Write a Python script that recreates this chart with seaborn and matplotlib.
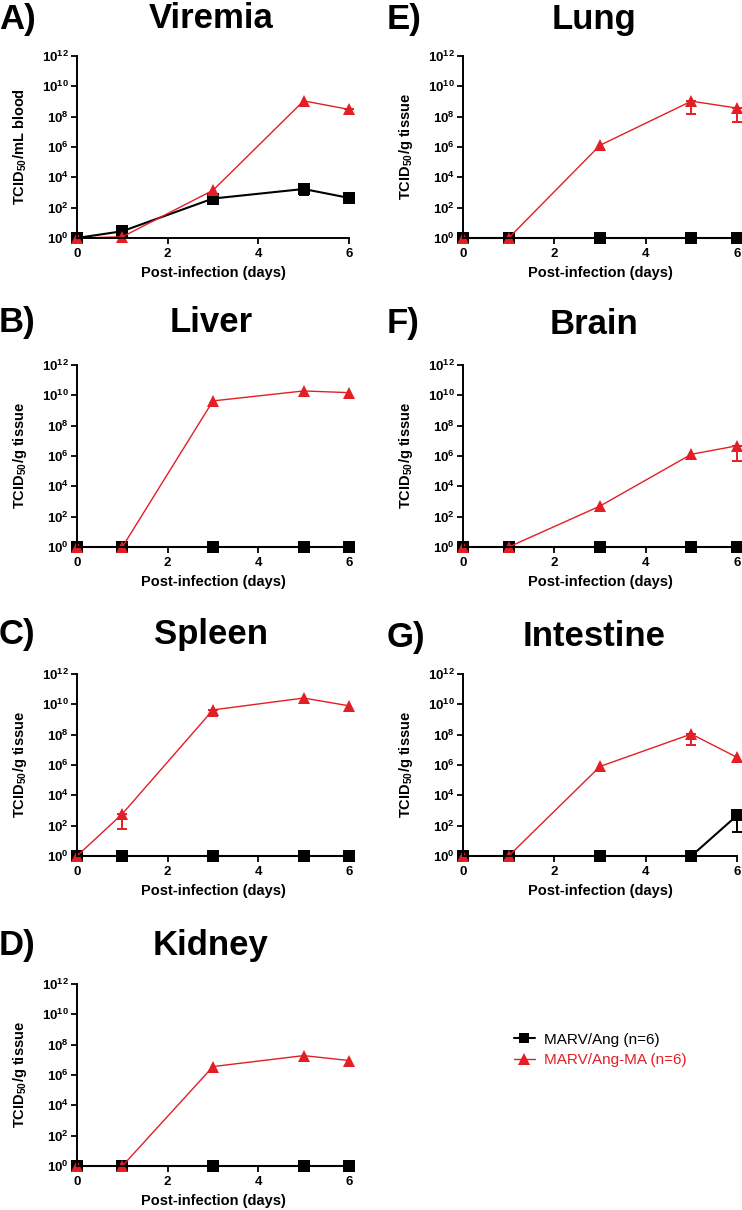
import pandas as pd
import matplotlib
matplotlib.use('Agg')
import matplotlib.pyplot as plt
import seaborn as sns
from matplotlib.lines import Line2D
from matplotlib.ticker import NullLocator

sns.set_style('ticks')
plt.rcParams['font.family'] = ['Liberation Sans', 'DejaVu Sans']
plt.rcParams['mathtext.fontset'] = 'custom'
plt.rcParams['mathtext.rm'] = 'Liberation Sans'
plt.rcParams['mathtext.bf'] = 'Liberation Sans:bold'
plt.rcParams['mathtext.default'] = 'bf'
for key in ['text.color', 'axes.labelcolor', 'xtick.color', 'ytick.color', 'axes.edgecolor']:
    plt.rcParams[key] = 'black'

days = [0, 1, 3, 5, 6]
groups = ['MARV/Ang (n=6)', 'MARV/Ang-MA (n=6)']
colors = ['black', '#E31E24']

# titers (TCID50)
viremia_ang = [1, 2.8, 4.0e2, 1.7e3, 4.4e2]
viremia_ma = [1, 1.2, 1.4e3, 1.1e9, 3.0e8]
liver_ang = [1, 1, 1, 1, 1]
liver_ma = [1, 1, 4.3e9, 1.95e10, 1.5e10]
spleen_ang = [1, 1, 1, 1, 1]
spleen_ma = [1, 6.0e2, 4.3e9, 2.6e10, 8.0e9]
kidney_ang = [1, 1, 1, 1, 1]
kidney_ma = [1, 1, 3.6e6, 1.9e7, 9.0e6]
lung_ang = [1, 1, 1, 1, 1]
lung_ma = [1, 1, 1.3e6, 1.05e9, 3.7e8]
brain_ang = [1, 1, 1, 1, 1]
brain_ma = [1, 1, 5.0e2, 1.3e6, 4.7e6]
intestine_ang = [1, 1, 1, 1, 4.7e2]
intestine_ma = [1, 1, 8.0e5, 1.1e8, 3.2e6]

# lower end of the error bars {day: value}
viremia_ang_low = {5: 7.2e2}
viremia_ma_low = {6: 1.4e8}
spleen_ma_low = {1: 62, 3: 1.6e9}
lung_ma_low = {5: 1.5e8, 6: 4.2e7}
brain_ma_low = {6: 4.8e5}
intestine_ang_low = {6: 36}
intestine_ma_low = {5: 1.95e7}

ylab_blood = r'TCID$_{50}$/mL blood'
ylab_tissue = r'TCID$_{50}$/g tissue'

panels = [
    ('A)', 'Viremia', ylab_blood, viremia_ang, viremia_ma, viremia_ang_low, viremia_ma_low, 0, 0),
    ('B)', 'Liver', ylab_tissue, liver_ang, liver_ma, {}, {}, 0, 1),
    ('C)', 'Spleen', ylab_tissue, spleen_ang, spleen_ma, {}, spleen_ma_low, 0, 2),
    ('D)', 'Kidney', ylab_tissue, kidney_ang, kidney_ma, {}, {}, 0, 3),
    ('E)', 'Lung', ylab_tissue, lung_ang, lung_ma, {}, lung_ma_low, 1, 0),
    ('F)', 'Brain', ylab_tissue, brain_ang, brain_ma, {}, brain_ma_low, 1, 1),
    ('G)', 'Intestine', ylab_tissue, intestine_ang, intestine_ma, intestine_ang_low, intestine_ma_low, 1, 2),
]

W, H = 742, 1210
fig = plt.figure(figsize=(W / 100, H / 100), dpi=100)

col_left = [77, 463]
col_width = [272, 274]
row_top = [56, 365, 674, 984]
ax_h = 182
title_y = [[19, 323, 634, 945], [19, 324, 637, 945]]
title_x = [211, 594]
label_x = [-1, 387]

for lab, title, ylab, ang, ma, ang_low, ma_low, c, r in panels:
    left, top, w = col_left[c], row_top[r], col_width[c]
    ax = fig.add_axes([left / W, 1 - (top + ax_h) / H, w / W, ax_h / H])
    df = pd.DataFrame({'day': days * 2, 'titer': ang + ma,
                       'group': [groups[0]] * 5 + [groups[1]] * 5})
    sns.lineplot(data=df, x='day', y='titer', hue='group', style='group',
                 size='group', hue_order=groups, style_order=groups, size_order=groups,
                 palette=colors, markers=['s', '^'], dashes=False,
                 sizes={groups[0]: 1.5, groups[1]: 1.0},
                 markersize=8, markeredgewidth=0, errorbar=None,
                 clip_on=False, legend=False, ax=ax)
    for vals, lows, col in [(ang, ang_low, colors[0]), (ma, ma_low, colors[1])]:
        for d, lo in lows.items():
            m = vals[days.index(d)]
            ax.errorbar([d], [m], yerr=[[m - lo], [0]], fmt='none', ecolor=col,
                        elinewidth=1.4, capsize=3.5, capthick=1.4, clip_on=False)
    ax.set_yscale('log')
    ax.set_ylim(1, 1e12)
    ax.set_xlim(0, 6)
    ax.set_yticks([10 ** k for k in range(0, 13, 2)])
    ax.set_yticklabels([rf'$10^{{{k}}}$' for k in range(0, 13, 2)])
    ax.yaxis.set_minor_locator(NullLocator())
    ax.set_xticks([0, 2, 4, 6])
    ax.set_xticklabels(['0', '2', '4', '6'], fontweight='bold')
    sns.despine(ax=ax)
    for s in ['left', 'bottom']:
        ax.spines[s].set_linewidth(1.4)
    ax.tick_params(axis='both', direction='out', length=4, width=1.3, labelsize=9.5)
    ax.tick_params(axis='y', pad=2)
    ax.tick_params(axis='x', pad=3)
    ax.set_xlabel('Post-infection (days)', fontsize=10.5, fontweight='bold')
    ax.xaxis.set_label_coords(0.5, -28 / ax_h)
    ax.set_ylabel(ylab, fontsize=10.5, fontweight='bold')
    ax.yaxis.set_label_coords(-57 / w, 0.5)
    ax.yaxis.label.set_va('center')
    fig.text(label_x[c] / W, 1 - title_y[c][r] / H, lab, fontsize=25,
             fontweight='bold', ha='left', va='center')
    fig.text(title_x[c] / W, 1 - title_y[c][r] / H, title, fontsize=25,
             fontweight='bold', ha='center', va='center')

handles = [Line2D([], [], color=colors[0], marker='s', lw=1.5, markersize=7, markeredgewidth=0),
           Line2D([], [], color=colors[1], marker='^', lw=1.0, markersize=8, markeredgewidth=0)]
leg = fig.legend(handles, groups, loc='center left', bbox_to_anchor=(500 / W, 1 - 1050 / H),
                 frameon=False, fontsize=11, handlelength=1.4, handletextpad=0.6,
                 labelspacing=0.45)
for t, col in zip(leg.get_texts(), colors):
    t.set_color(col)

fig.savefig('out.png', dpi=100)
